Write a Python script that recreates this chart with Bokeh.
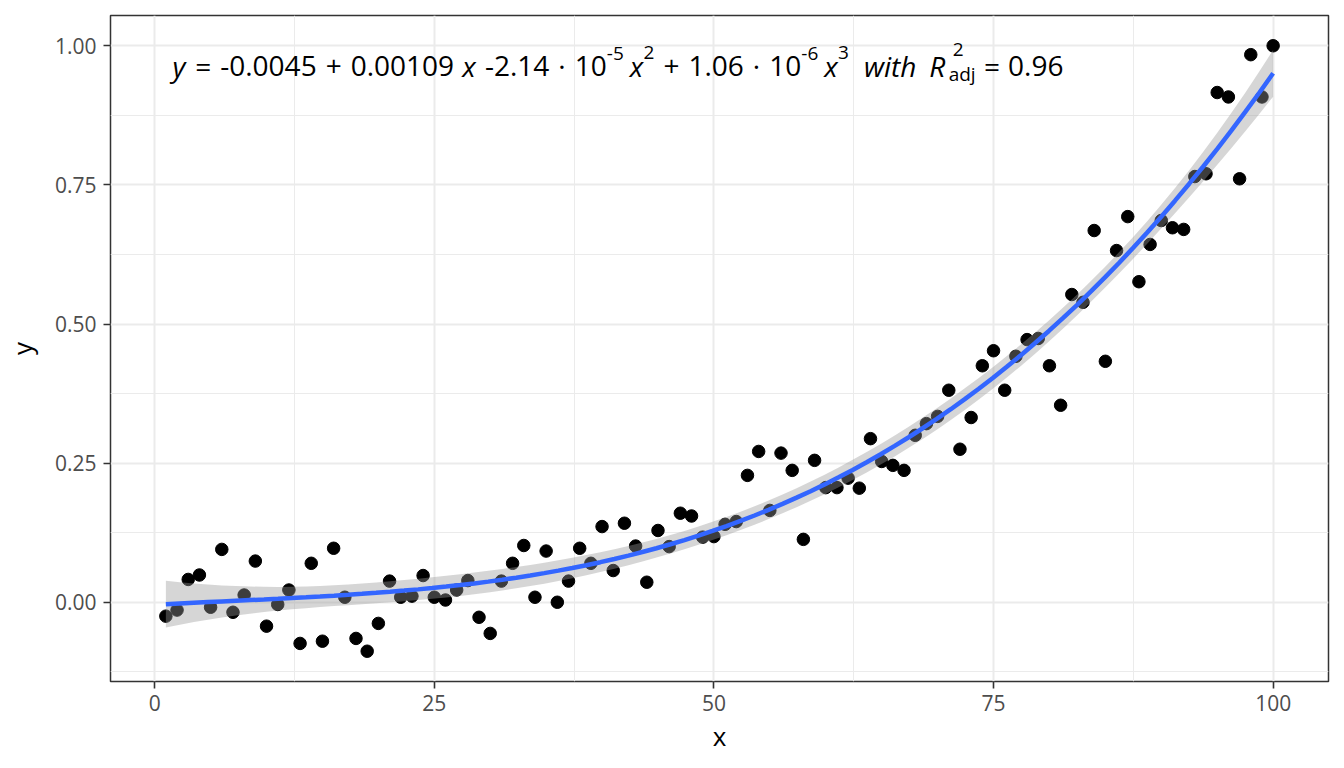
import numpy as np
from bokeh.plotting import figure
from bokeh.models import Range1d, FixedTicker, Label
from bokeh.embed import file_html
from bokeh.resources import INLINE

# ---------------- data ----------------
x_values = list(range(1, 101))
y_values = [
    -0.025, -0.014, 0.041, 0.049, -0.009, 0.095, -0.018, 0.013, 0.074, -0.043,
    -0.004, 0.022, -0.074, 0.070, -0.070, 0.097, 0.009, -0.065, -0.088, -0.038,
    0.038, 0.009, 0.011, 0.048, 0.009, 0.004, 0.022, 0.039, -0.027, -0.056,
    0.038, 0.070, 0.102, 0.009, 0.092, 0.000, 0.038, 0.097, 0.070, 0.136,
    0.057, 0.142, 0.101, 0.036, 0.129, 0.100, 0.160, 0.155, 0.117, 0.118,
    0.140, 0.145, 0.228, 0.271, 0.165, 0.268, 0.237, 0.113, 0.255, 0.206,
    0.206, 0.223, 0.205, 0.294, 0.253, 0.246, 0.237, 0.300, 0.321, 0.334,
    0.381, 0.275, 0.332, 0.425, 0.452, 0.381, 0.442, 0.472, 0.474, 0.425,
    0.354, 0.553, 0.539, 0.668, 0.433, 0.632, 0.693, 0.576, 0.643, 0.686,
    0.673, 0.670, 0.765, 0.770, 0.916, 0.908, 0.761, 0.984, 0.908, 1.000,
]
# fitted polynomial coefficients shown in the label (c0 + c1 x + c2 x^2 + c3 x^3)
coefficients = [-0.0045, 0.00109, -2.14e-5, 1.06e-6]
r2_adj = 0.96

x_ticks = [0, 25, 50, 75, 100]
x_minor = [12.5, 37.5, 62.5, 87.5]
y_ticks = [0.0, 0.25, 0.50, 0.75, 1.00]
y_minor = [-0.125, 0.125, 0.375, 0.625, 0.875]
y_tick_labels = {0.0: "0.00", 0.25: "0.25", 0.5: "0.50", 0.75: "0.75", 1.0: "1.00"}

# ---------------- fit line & confidence band ----------------
xa = np.array(x_values, dtype=float)
ya = np.array(y_values, dtype=float)
X = np.vander(xa, 4, increasing=True)
coef = np.array(coefficients)
resid = ya - X @ coef
s2 = np.sum(resid ** 2) / (len(xa) - 4)
cov = s2 * np.linalg.inv(X.T @ X)
xg = np.linspace(xa.min(), xa.max(), 80)
Xg = np.vander(xg, 4, increasing=True)
fit = Xg @ coef
se = np.sqrt(np.einsum("ij,jk,ik->i", Xg, cov, Xg))
tq = 1.985
lower = fit - tq * se
upper = fit + tq * se

# ---------------- figure ----------------
X0, X1 = -3.95, 104.95
Y0, Y1 = -0.1424, 1.0544
BL, BR, BT, BB = 109, 8, 15, 79
W, H = 1336, 760
FONT = "Open Sans"

p = figure(width=W, height=H, x_range=Range1d(X0, X1), y_range=Range1d(Y0, Y1),
           output_backend="svg", toolbar_location=None,
           min_border_left=BL, min_border_right=BR, min_border_top=BT, min_border_bottom=BB)
p.background_fill_color = "white"
p.border_fill_color = "white"
p.outline_line_color = "#333333"
p.outline_line_width = 1.5

p.xaxis.ticker = FixedTicker(ticks=x_ticks, minor_ticks=x_minor)
p.yaxis.ticker = FixedTicker(ticks=y_ticks, minor_ticks=y_minor)
p.yaxis.major_label_overrides = y_tick_labels
for ax in (p.xaxis, p.yaxis):
    ax.axis_line_color = None
    ax.major_tick_in = 0
    ax.major_tick_out = 7
    ax.major_tick_line_color = "#333333"
    ax.major_tick_line_width = 1.6
    ax.minor_tick_line_color = None
    ax.major_label_text_font = FONT
    ax.major_label_text_font_size = "21px"
    ax.major_label_text_color = "#4D4D4D"
    ax.axis_label_text_font = FONT
    ax.axis_label_text_font_size = "26px"
    ax.axis_label_text_font_style = "normal"
    ax.axis_label_text_color = "black"
p.xaxis.axis_label = "x"
p.yaxis.axis_label = "y"
p.xaxis.major_label_standoff = 6
p.yaxis.major_label_standoff = 7
p.xaxis.axis_label_standoff = 4
p.yaxis.axis_label_standoff = 12

for g in (p.xgrid, p.ygrid):
    g.grid_line_color = "#EBEBEB"
    g.grid_line_width = 2
    g.minor_grid_line_color = "#EBEBEB"
    g.minor_grid_line_width = 1

p.scatter(x_values, y_values, size=12.5, color="black")
p.varea(x=xg, y1=lower, y2=upper, fill_color="#999999", fill_alpha=0.4)
p.line(xg, fit, line_color="#3366FF", line_width=4.5)

# ---------------- equation label (built from pieces, flowed left to right) ----------------
fw = W - BL - BR
fh = H - BT - BB
def dx(px):  # canvas px -> data x
    return X0 + (px - BL) * (X1 - X0) / fw
def dy(py):  # canvas px -> data y
    return Y1 - (py - BT) * (Y1 - Y0) / fh

# approximate advance widths (em) of Open Sans glyphs
ADV = {d: 0.572 for d in "0123456789"}
ADV.update({".": 0.266, "-": 0.322, "+": 0.572, "=": 0.572, "·": 0.266})
ADV_IT = {"x": 0.493, "y": 0.493, "w": 0.742, "i": 0.26, "t": 0.332, "h": 0.576, "R": 0.625}
ADV_SUB = {"a": 0.556, "d": 0.613, "j": 0.271}
def width(txt, fs, style):
    tab = ADV_IT if style == "italic" else {**ADV, **ADV_SUB}
    return sum(tab.get(c, 0.55) for c in txt) * fs

def fmt(v):
    return f"{v:g}"

c0, c1, c2, c3 = coefficients
m2, e2 = f"{abs(c2):.2e}".split("e")
m3, e3 = f"{abs(c3):.2e}".split("e")
BIG, SUP = 28, 19
SHIFT = -12
BASE, SUPB = 77 + SHIFT, 65 + SHIFT
r, b, s, s2_, w1, w2, r2 = 9, 9, 8, 6, 15, 12, 8
seq = [
    ("y", BIG, "italic", 0, BASE),
    ("=", BIG, "normal", r, BASE),
    (("-" if c0 < 0 else "") + fmt(abs(c0)), BIG, "normal", r, BASE),
    ("+" if c1 >= 0 else "-", BIG, "normal", b, BASE),
    (fmt(abs(c1)), BIG, "normal", b, BASE),
    ("x", BIG, "italic", s, BASE),
    (("-" if c2 < 0 else "+") + m2, BIG, "normal", b, BASE),
    ("·", BIG, "normal", b, BASE),
    ("10", BIG, "normal", b, BASE),
    (str(int(e2)), SUP, "normal", 0, SUPB),
    ("x", BIG, "italic", s2_, BASE),
    ("2", SUP, "normal", 0, SUPB - 1),
    ("+" if c3 >= 0 else "-", BIG, "normal", b, BASE),
    (m3, BIG, "normal", b, BASE),
    ("·", BIG, "normal", b, BASE),
    ("10", BIG, "normal", b, BASE),
    (str(int(e3)), SUP, "normal", 0, SUPB),
    ("x", BIG, "italic", s2_, BASE),
    ("3", SUP, "normal", 0, SUPB - 1),
    ("with", BIG, "italic", w1, BASE),
    ("R", BIG, "italic", w2, BASE),
    ("2", SUP, "normal", 6, 61 + SHIFT),
    ("adj", SUP, "normal", -15, 85 + SHIFT),
    ("=", BIG, "normal", r2, BASE),
    (f"{r2_adj:.2f}", BIG, "normal", r2, BASE),
]
cur = 171.0
for txt, fs, style, gap, base in seq:
    cur += gap
    p.add_layout(Label(x=dx(cur), y=dy(base), text=txt, text_font=FONT,
                       text_font_size=f"{fs}px", text_font_style=style,
                       text_color="black", text_align="left",
                       text_baseline="alphabetic"))
    cur += width(txt, fs, style)

open("out.html", "w").write(file_html(p, INLINE))
